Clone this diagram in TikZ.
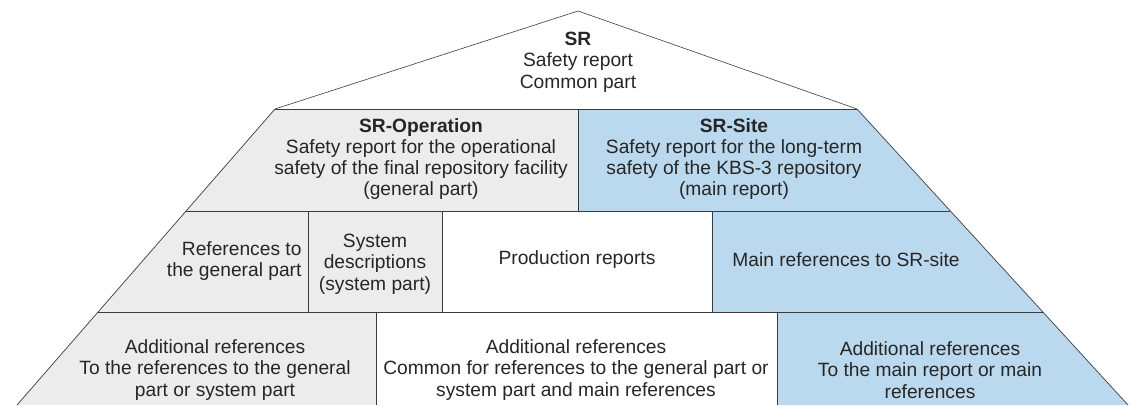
\documentclass[tikz,border=0pt]{standalone}
\usepackage{xcolor}
\usepackage{fontspec}
\setmainfont{Liberation Sans}
\usepackage{tikz}
\usetikzlibrary{positioning, calc}

\definecolor{opgray}{HTML}{ECECEC}
\definecolor{siteblue}{HTML}{BBD9EE}
\definecolor{edgegray}{HTML}{3C3C3C}

\begin{document}
\begin{tikzpicture}[x=1pt, y=-1pt,
	every node/.style={font=\fontsize{19.2}{21.3}\selectfont, align=center, text=black!85},
	edge/.style={draw=edgegray, line width=0.9pt},
	slant/.style={draw=edgegray, line width=0.7pt}]
	\useasboundingbox (0,0) rectangle (1132,405);
	
	% fills
	\fill [opgray] (275,109) -- (578,109) -- (578,211) -- (186,211) -- cycle;
	\fill [siteblue] (578,109) -- (857,109) -- (950,211) -- (578,211) -- cycle;
	\fill [opgray] (186,211) -- (442,211) -- (442,312) -- (98,312) -- cycle;
	\fill [siteblue] (712,211) -- (950,211) -- (1043,312) -- (712,312) -- cycle;
	\fill [opgray] (98,312) -- (376,312) -- (376,405) -- (17,405) -- cycle;
	\fill [siteblue] (777,312) -- (1043,312) -- (1128,405) -- (777,405) -- cycle;
	
	% roof and sides
	\draw [slant, line width=0.6pt] (275,109) -- (578,11) -- (857,109);
	\draw [slant] (275,109) -- (17,405);
	\draw [slant] (857,109) -- (1128,405);
	
	% rows
	\draw [edge] (275,109) -- (857,109);
	\draw [edge] (186,211) -- (950,211);
	\draw [edge] (98,312) -- (1043,312);
	\draw [edge] (578,109) -- (578,211);
	\draw [edge] (308,211) -- (308,312);
	\draw [edge] (442,211) -- (442,312);
	\draw [edge] (712,211) -- (712,312);
	\draw [edge] (376,312) -- (376,405);
	\draw [edge] (777,312) -- (777,405);
	
	\node (sr) at (578,62) {\textbf{SR}\\Safety report\\Common part};
	\node (srop) at (421,159) {\textbf{SR-Operation}\\Safety report for the operational\\safety of the final repository facility\\(general part)};
	\node (srsite) at (734,159) {\textbf{SR-Site}\\Safety report for the long-term\\safety of the KBS-3 repository\\(main report)};
	
	\node [anchor=east, align=right] (refgen) at (305,261) {References to\\the general part};
	\node (sysdesc) at (375,264) {System\\descriptions\\(system part)};
	\node (prod) at (577,260) {Production reports};
	\node (mainref) at (846,260) {Main references to SR-site};
	
	\node (addgen) at (215,370) {Additional references\\To the references to the general\\part or system part};
	\node (addcom) at (576,370) {Additional references\\Common for references to the general part or\\system part and main references};
	\node (addmain) at (930,370) {Additional references\\To the main report or main\\references};
\end{tikzpicture}
\end{document}
